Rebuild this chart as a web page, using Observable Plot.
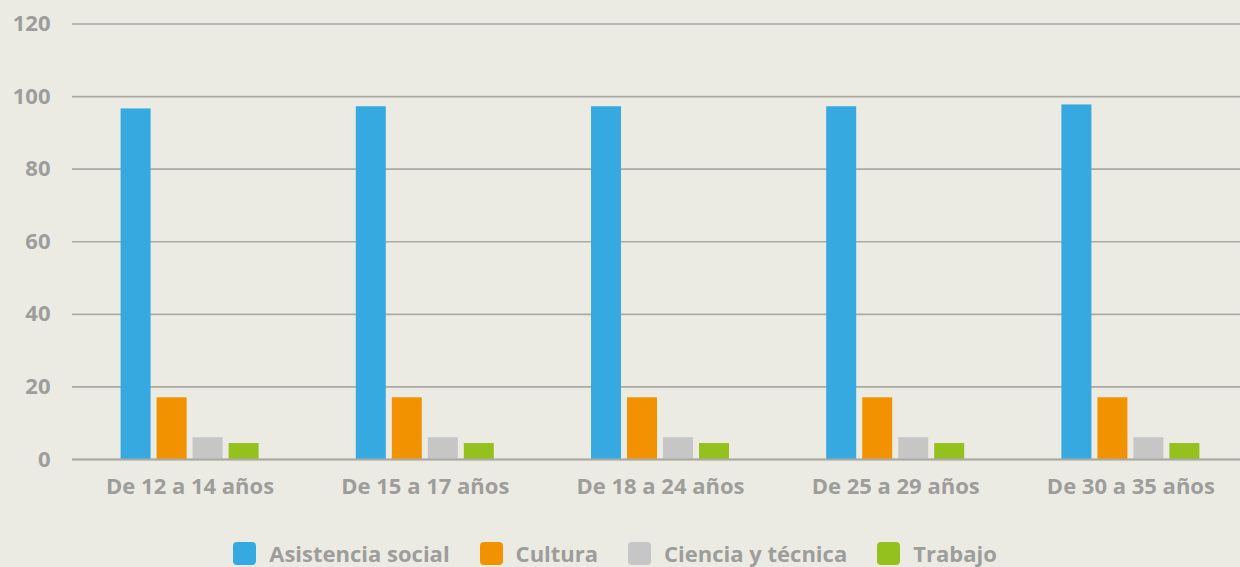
<!DOCTYPE html>
<html>
<head>
<meta charset="utf-8">
<script src="https://cdn.jsdelivr.net/npm/d3@7"></script>
<script src="https://cdn.jsdelivr.net/npm/@observablehq/plot@0.6"></script>
<style>
  html, body { margin: 0; padding: 0; background: #ecebe3; width: 1240px; height: 567px; overflow: hidden; position: relative; }
  #chart { position: absolute; left: 0; top: 0; }
  #legend { position: absolute; left: 0; top: 538px; width: 1230px; height: 30px; display: flex; justify-content: center; align-items: center; font-family: "Open Sans", sans-serif; font-weight: 700; font-size: 22px; line-height: 30px; color: #9d9d9c; white-space: nowrap; }
  #legend .item { display: flex; align-items: center; margin: 0 15px; }
  #legend .sw { width: 23px; height: 23px; border-radius: 4px; margin-right: 13px; }
</style>
</head>
<body>
<div id="chart"></div>
<div id="legend"></div>
<script>
const groups = ["De 12 a 14 años", "De 15 a 17 años", "De 18 a 24 años", "De 25 a 29 años", "De 30 a 35 años"];
const series = ["Asistencia social", "Cultura", "Ciencia y técnica", "Trabajo"];
const asistenciaSocial = [96.6, 97.2, 97.2, 97.2, 97.7];
const cultura = [17, 17, 17, 17, 17];
const cienciaYTecnica = [6, 6, 6, 6, 6];
const trabajo = [4.4, 4.4, 4.4, 4.4, 4.4];
const colors = ["#36a9e1", "#f39200", "#c6c6c6", "#95c11f"];
const yTicks = [0, 20, 40, 60, 80, 100, 120];

const valuesBySeries = [asistenciaSocial, cultura, cienciaYTecnica, trabajo];
const data = [];
groups.forEach((g, gi) => {
  series.forEach((s, si) => {
    data.push({group: g, series: s, value: valuesBySeries[si][gi]});
  });
});

// layout of the four bars inside each group band
const step = 235.2, barW = 30, gap = 6;
const blockW = series.length * barW + (series.length - 1) * gap;
const lead = (step - blockW) / 2;

const barMarks = series.map((s, si) => {
  const left = lead + si * (barW + gap);
  return Plot.barY(data.filter(d => d.series === s), {
    x: "group", y: "value", fill: "series",
    insetLeft: left, insetRight: step - left - barW
  });
});

const plot = Plot.plot({
  width: 1240,
  height: 520,
  marginTop: 23.5,
  marginBottom: 61,
  marginLeft: 72,
  marginRight: 0,
  style: {background: "transparent", fontFamily: "'Open Sans', sans-serif", fontSize: "22px", fontWeight: 700, color: "#9d9d9c"},
  x: {domain: groups, range: [72, 72 + step * groups.length], padding: 0, round: false, label: null},
  y: {domain: [0, 120], label: null},
  color: {domain: series, range: colors},
  marks: [
    Plot.ruleY(yTicks, {stroke: "#aaa9a4", strokeWidth: 1.6}),
    ...barMarks,
    Plot.ruleY([0], {stroke: "#aaa9a4", strokeWidth: 2}),
    Plot.axisY(yTicks, {tickSize: 0, tickPadding: 22, label: null, fontSize: 22}),
    Plot.axisX({tickSize: 0, tickPadding: 19, label: null, fontSize: 22})
  ]
});
document.getElementById("chart").appendChild(plot);

const legend = document.getElementById("legend");
series.forEach((s, i) => {
  const item = document.createElement("div");
  item.className = "item";
  const sw = document.createElement("div");
  sw.className = "sw";
  sw.style.background = colors[i];
  const t = document.createElement("span");
  t.textContent = s;
  item.appendChild(sw);
  item.appendChild(t);
  legend.appendChild(item);
});
</script>
</body>
</html>
